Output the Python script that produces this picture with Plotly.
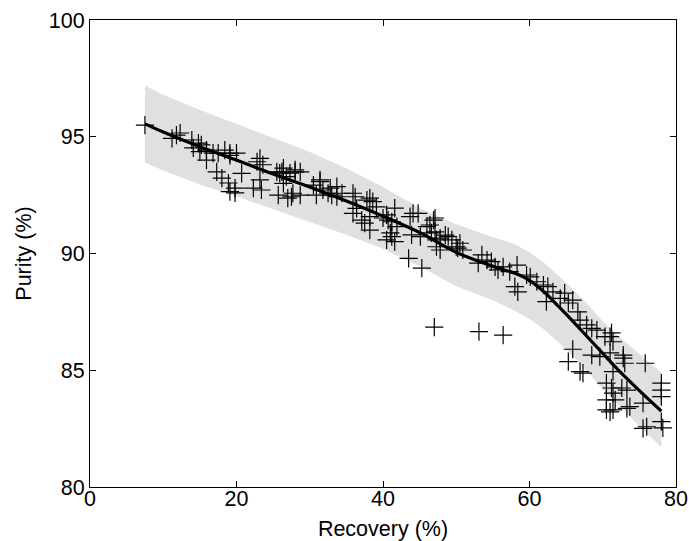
import plotly.graph_objects as go

# Scatter data: Recovery (%) vs Purity (%)
rec = [7.5, 11.2, 11.8, 12.3, 13.9, 14.8, 15.2, 14.1, 15.0, 15.9, 16.8, 17.5, 18.4, 19.1, 20.0,
       17.3, 18.0, 18.9, 19.1, 19.8, 15.9, 19.8, 22.3, 23.4, 25.7, 22.8, 23.2, 20.7, 19.1, 26.2,
       26.8, 23.6, 23.2, 25.5, 25.9, 27.3, 28.0, 28.7, 26.4, 27.7, 27.0, 28.7, 30.5, 31.4, 31.8,
       32.5, 33.0, 33.7, 33.7, 30.9, 26.4, 28.0, 27.5, 31.4, 32.8, 34.4, 36.2, 36.4, 35.9, 37.1,
       37.5, 38.2, 38.6, 39.1, 38.2, 40.0, 40.7, 41.2, 41.6, 41.9, 41.0, 41.2, 40.5, 41.6, 43.7,
       44.8, 43.9, 45.1, 46.0, 46.4, 46.9, 47.1, 47.3, 43.5, 45.3, 35.9, 37.8, 38.2, 40.5, 44.1,
       47.1, 46.6, 47.8, 48.9, 49.4, 50.5, 50.2, 50.9, 47.8, 47.3, 48.5, 50.0, 53.5, 53.0, 54.2,
       54.8, 55.3, 55.7, 56.4, 57.3, 58.3, 59.6, 60.1, 58.0, 58.4, 47.0, 53.1, 56.4, 61.0, 61.9,
       62.5, 62.3, 63.2, 64.2, 64.8, 65.3, 65.9, 66.6, 66.9, 67.8, 68.5, 69.2, 70.3, 65.9, 65.3,
       66.9, 67.3, 68.5, 69.6, 70.5, 70.5, 70.5, 71.2, 71.4, 71.0, 72.8, 73.0, 75.8, 71.2, 71.4,
       72.6, 73.3, 71.7, 71.4, 73.7, 75.5, 78.0, 78.0, 78.0, 78.0, 76.0, 78.2, 71.0, 73.3, 75.5,
       71.4, 71.0, 72.8]
pur = [95.5, 94.93, 95.07, 95.16, 94.86, 94.73, 94.65, 94.52, 94.36, 94.43, 94.3, 94.3, 94.43, 94.3, 94.3,
       93.5, 93.23, 93.02, 92.65, 92.6, 94.0, 92.8, 92.8, 92.72, 92.5, 93.93, 94.07, 93.43, 94.2, 93.5,
       93.29, 93.8, 93.15, 93.5, 93.44, 93.44, 93.5, 93.5, 93.0, 92.58, 92.37, 92.5, 92.93, 93.15, 92.72,
       92.58, 92.5, 92.43, 92.86, 92.5, 93.66, 93.58, 92.43, 93.08, 92.8, 92.58, 92.43, 91.93, 91.72, 91.43,
       91.3, 92.37, 92.22, 92.0, 91.58, 91.52, 91.43, 91.36, 91.94, 91.15, 90.88, 90.72, 90.58, 90.51, 91.58,
       91.72, 90.8, 90.72, 91.15, 91.22, 91.43, 90.93, 90.58, 89.79, 89.37, 92.58, 92.29, 91.0, 91.65, 91.72,
       91.52, 90.88, 90.66, 90.72, 90.58, 90.44, 90.23, 90.15, 90.15, 90.29, 90.79, 90.29, 89.94, 89.59, 89.72,
       89.65, 89.43, 89.3, 89.43, 89.22, 89.5, 89.08, 89.0, 88.58, 88.36, 86.85, 86.65, 86.5, 88.79, 88.65,
       88.58, 87.94, 88.36, 88.08, 88.3, 87.88, 88.0, 87.5, 87.15, 86.94, 86.79, 86.72, 86.44, 85.9, 85.37,
       84.94, 84.88, 85.65, 85.58, 84.45, 83.73, 83.3, 86.6, 86.22, 85.74, 85.52, 85.3, 85.3, 84.24, 84.02,
       84.24, 84.15, 83.73, 83.3, 83.44, 83.59, 84.45, 84.15, 83.87, 82.8, 82.58, 82.53, 83.22, 83.37, 82.51,
       84.94, 86.44, 85.65]

# Fitted curve
fit_x = [7.5, 10, 15, 20, 25, 30, 35, 40, 45, 50, 55, 58, 60, 62, 64, 66, 68, 70, 72, 75, 78]
fit_y = [95.55, 95.2, 94.57, 94.0, 93.4, 92.85, 92.25, 91.6, 90.9, 90.05, 89.45, 89.15, 88.85, 88.35,
         87.72, 87.07, 86.4, 85.72, 85.05, 84.13, 83.25]

# Confidence band
band_x = [7.5, 10, 15, 20, 25, 30, 35, 40, 45, 50, 55, 58, 60, 62, 65, 68, 70, 72, 75, 78]
band_hi = [97.2, 96.8, 96.15, 95.55, 94.95, 94.35, 93.65, 92.85, 91.95, 91.25, 90.7, 90.4, 90.05,
           89.6, 88.75, 87.8, 87.1, 86.5, 85.7, 84.9]
band_lo = [93.9, 93.55, 92.95, 92.45, 91.9, 91.35, 90.8, 90.2, 89.45, 88.6, 88.0, 87.55, 87.2,
           86.75, 85.9, 84.9, 84.2, 83.55, 82.6, 81.7]

x_ticks = [0, 20, 40, 60, 80]
y_ticks = [80, 85, 90, 95, 100]

fig = go.Figure()
fig.add_trace(go.Scatter(
    x=band_x + band_x[::-1], y=band_hi + band_lo[::-1],
    fill="toself", fillcolor="rgb(224,224,224)", line=dict(width=0),
    mode="lines", hoverinfo="skip", showlegend=False))
fig.add_trace(go.Scatter(
    x=rec, y=pur, mode="markers",
    marker=dict(symbol="cross-thin", size=13, line=dict(color="black", width=1.2)),
    showlegend=False))
fig.add_trace(go.Scatter(
    x=fit_x, y=fit_y, mode="lines", line=dict(color="black", width=3.2, shape="spline"),
    showlegend=False))

font = dict(family="Liberation Sans, Arial, Helvetica, sans-serif", size=21.5, color="black")
axis_common = dict(showline=True, linecolor="black", linewidth=1, mirror="ticks",
                   ticks="inside", ticklen=6, tickcolor="black", tickwidth=1,
                   showgrid=False, zeroline=False, tickfont=font, automargin=False)
fig.update_layout(
    width=689, height=541,
    margin=dict(l=90, r=13, t=20, b=54),
    paper_bgcolor="white", plot_bgcolor="white",
    font=font,
    xaxis=dict(range=[0, 80], tickvals=x_ticks, ticktext=[str(v) for v in x_ticks],
               ticklabelstandoff=-8,
               title=dict(text="Recovery (%)", font=font, standoff=13), **axis_common),
    yaxis=dict(range=[80, 100], tickvals=y_ticks, ticktext=[str(v) for v in y_ticks],
               ticklabelstandoff=0,
               title=dict(text="Purity (%)", font=font, standoff=11), **axis_common),
)
fig.write_html("out.html")
